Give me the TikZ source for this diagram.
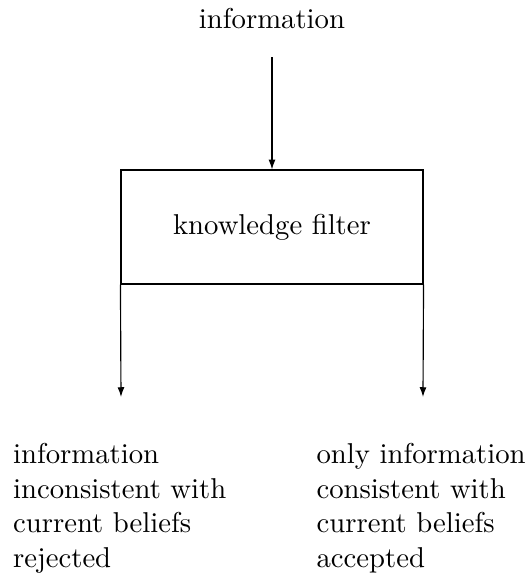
\documentclass[tikz,border=0pt]{standalone}
\usetikzlibrary{arrows.meta}
\begin{document}
\begin{tikzpicture}[x=0.3484pt,y=-0.3484pt,
  arr/.style={-{Latex[length=3.4pt,width=2.4pt]}, line width=0.4pt},
  box/.style={draw, line width=0.4pt, minimum width=105.2pt, minimum height=39.7pt, inner sep=0pt},
  txt/.style={align=left, inner sep=0pt, font=\fontsize{10}{12}\selectfont}]
\useasboundingbox (0,0) rectangle (531,578);
\node[inner sep=0pt, anchor=base] (in) at (272,28) {information};
\node[box] (kf) at (272,227) {knowledge filter};
\coordinate (top) at (272,57);
\coordinate (l) at (121,397);
\coordinate (r) at (423,397);
\draw[arr] (top) -- (kf.north);
\draw[arr] (kf.south west) -- (l);
\draw[arr] (kf.south east) -- (r);
\node[txt, anchor=base west] (rej) at (12.5,567) {information\\inconsistent with\\current beliefs\\rejected};
\node[txt, anchor=base west] (acc) at (316,567) {only information\\consistent with\\current beliefs\\accepted};
\end{tikzpicture}
\end{document}
